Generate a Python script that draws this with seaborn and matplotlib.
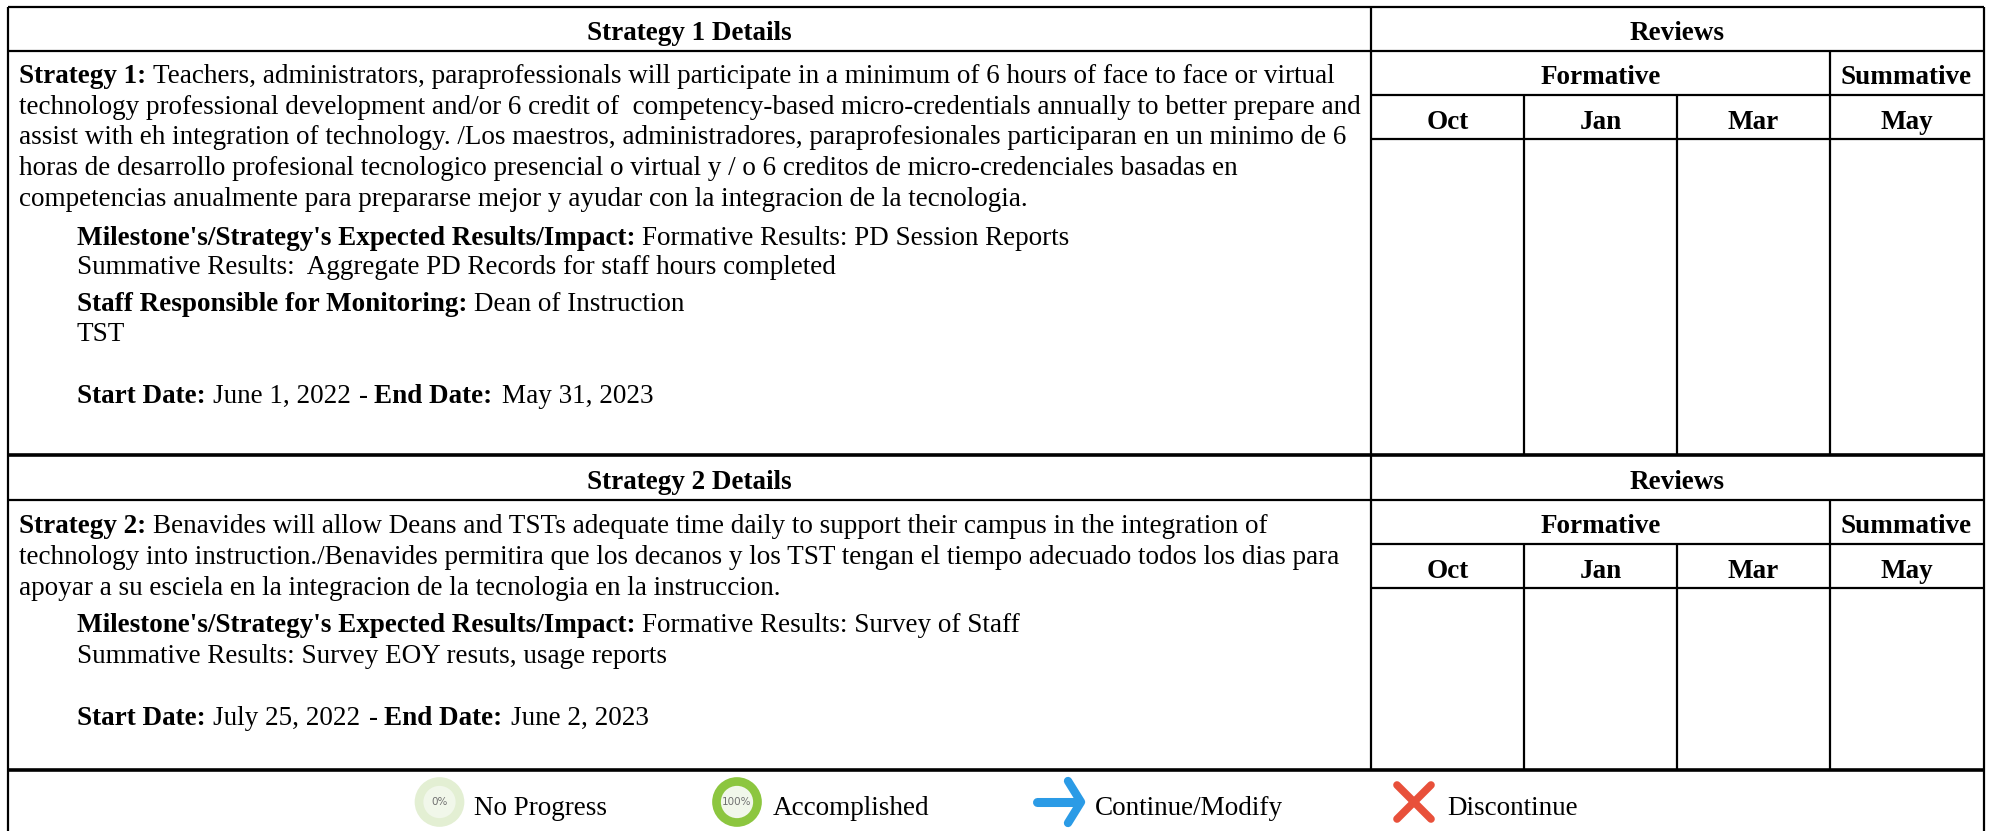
import matplotlib
matplotlib.use('Agg')
import matplotlib.pyplot as plt
import pandas as pd
import seaborn as sns

# text of the two strategy blocks
header_left = ['Strategy 1 Details', 'Strategy 2 Details']
header_right = 'Reviews'
formative = 'Formative'
summative = 'Summative'
months = ['Oct', 'Jan', 'Mar', 'May']

s1_lines = [
    'technology professional development and/or 6 credit of  competency-based micro-credentials annually to better prepare and',
    'assist with eh integration of technology. /Los maestros, administradores, paraprofesionales participaran en un minimo de 6',
    'horas de desarrollo profesional tecnologico presencial o virtual y / o 6 creditos de micro-credenciales basadas en',
    'competencias anualmente para prepararse mejor y ayudar con la integracion de la tecnologia.',
]
s2_lines = [
    'technology into instruction./Benavides permitira que los decanos y los TST tengan el tiempo adecuado todos los dias para',
    'apoyar a su esciela en la integracion de la tecnologia en la instruccion.',
]

# (bold, regular) pairs
s1_first = ('Strategy 1:', 'Teachers, administrators, paraprofessionals will participate in a minimum of 6 hours of face to face or virtual')
s2_first = ('Strategy 2:', 'Benavides will allow Deans and TSTs adequate time daily to support their campus in the integration of')
milestone = "Milestone's/Strategy's Expected Results/Impact:"
s1_formative = 'Formative Results: PD Session Reports'
s1_summative = 'Summative Results:  Aggregate PD Records for staff hours completed'
s2_formative = 'Formative Results: Survey of Staff'
s2_summative = 'Summative Results: Survey EOY resuts, usage reports'
staff_label = 'Staff Responsible for Monitoring:'
staff_names = ['Dean of Instruction', 'TST']
s1_dates = ['June 1, 2022', 'May 31, 2023']
s2_dates = ['July 25, 2022', 'June 2, 2023']
legend_labels = ['No Progress', 'Accomplished', 'Continue/Modify', 'Discontinue']

W, H = 1993, 831
FS = 19.5
sns.set_theme(style='white')
plt.rcParams['font.family'] = ['Liberation Serif', 'DejaVu Serif']

fig = plt.figure(figsize=(W / 100, H / 100), dpi=100, facecolor='white')
ax = fig.add_axes([0, 0, 1, 1])
ax.set_xlim(0, W)
ax.set_ylim(H, 0)
ax.axis('off')


def txt(x, y, s, bold=False, ha='left', size=FS):
    return ax.text(x, y, s, fontsize=size, ha=ha, va='baseline', color='black',
                   fontweight='bold' if bold else 'normal')


def pair(x, y, bold, regular, gap=7):
    # bold lead-in, regular text right after it
    t = txt(x, y, bold, bold=True)
    bb = t.get_window_extent(fig.canvas.get_renderer())
    txt(bb.x1 + gap, y, regular)
    return bb.x1


L, M, R = 8, 1371, 1984
cols = [1524, 1677, 1830]
black = 'black'

# outer frame and rules
ax.vlines([L, M, R], 7, [831, 770, 831], color=black, lw=1.6)
ax.hlines(7, L, R, color=black, lw=1.6)
ax.hlines([51, 500], L, R, color=black, lw=1.6)
ax.hlines([455, 770], L, R, color=black, lw=2.6)
for top in [0, 449]:
    ax.hlines([95 + top, 139 + top], M, R, color=black, lw=1.6)
for y0, y1 in [(51, 455), (500, 770)]:
    ax.vlines(cols[2], y0, y1, color=black, lw=1.6)
for y0, y1 in [(95, 455), (544, 770)]:
    ax.vlines(cols[:2], y0, y1, color=black, lw=1.6)

# headers
for top, label in zip([0, 449], header_left):
    txt((L + M) / 2, 40 + top, label, bold=True, ha='center')
    txt((M + R) / 2, 40 + top, header_right, bold=True, ha='center')
    txt((M + cols[2]) / 2, 84 + top, formative, bold=True, ha='center')
    txt((cols[2] + R) / 2 - 1, 84 + top, summative, bold=True, ha='center')
    for a, b, m in zip([M] + cols, cols + [R], months):
        txt((a + b) / 2, 129 + top, m, bold=True, ha='center')

# strategy 1
pair(19, 83, *s1_first)
for y, line in zip([114, 144, 175, 206], s1_lines):
    txt(19, y, line)
pair(77, 245, milestone, s1_formative)
txt(77, 274, s1_summative)
pair(77, 311, staff_label, staff_names[0])
txt(77, 341, staff_names[1])
pair(77, 403, 'Start Date:', s1_dates[0])

# strategy 2
pair(19, 533, *s2_first)
for y, line in zip([564, 595], s2_lines):
    txt(19, y, line)
pair(77, 632, milestone, s2_formative)
txt(77, 663, s2_summative)
pair(77, 725, 'Start Date:', s2_dates[0])

# end dates sit after the start dates
for y, d0, d1 in [(403, s1_dates[0], s1_dates[1]), (725, s2_dates[0], s2_dates[1])]:
    t = txt(0, y, 'Start Date:', bold=True)
    w0 = t.get_window_extent(fig.canvas.get_renderer()).width
    t.remove()
    t = txt(0, y, d0)
    w1 = t.get_window_extent(fig.canvas.get_renderer()).width
    t.remove()
    x = 77 + w0 + 7 + w1 + 9
    t = txt(x, y, '-')
    x = t.get_window_extent(fig.canvas.get_renderer()).x1 + 6
    pair(x, y, 'End Date:', d1, gap=9)

# legend icons
circles = pd.DataFrame({'x': [439.5, 737], 'y': [802, 802]})
sns.scatterplot(data=circles, x='x', y='y', s=[1280, 1280], c=['#e3efd3', '#8cc63f'],
                linewidth=0, ax=ax, legend=False, zorder=3)
sns.scatterplot(data=circles, x='x', y='y', s=[540, 540], c=['#f1f7ea', '#f1f7ea'],
                linewidth=0, ax=ax, legend=False, zorder=4)
ax.text(439.5, 802, '0%', fontsize=7.5, ha='center', va='center', color='#707070',
        family='DejaVu Sans', zorder=5)
ax.text(737, 802, '100%', fontsize=7.5, ha='center', va='center', color='#707070',
        family='DejaVu Sans', zorder=5)

# arrow
ax.plot([1037, 1078], [802, 802], color='#2b9be6', lw=6.5, solid_capstyle='round', zorder=3)
ax.plot([1068, 1081, 1068], [781, 802, 823], color='#2b9be6', lw=6,
        solid_capstyle='round', solid_joinstyle='round', zorder=3)
# cross
ax.plot([1397, 1431], [785, 819], color='#e8503a', lw=5.5, solid_capstyle='round', zorder=3)
ax.plot([1397, 1431], [819, 785], color='#e8503a', lw=5.5, solid_capstyle='round', zorder=3)

for x, label in zip([474, 773, 1095, 1447], legend_labels):
    txt(x, 815, label)

fig.savefig('out.png', dpi=100, facecolor='white')
